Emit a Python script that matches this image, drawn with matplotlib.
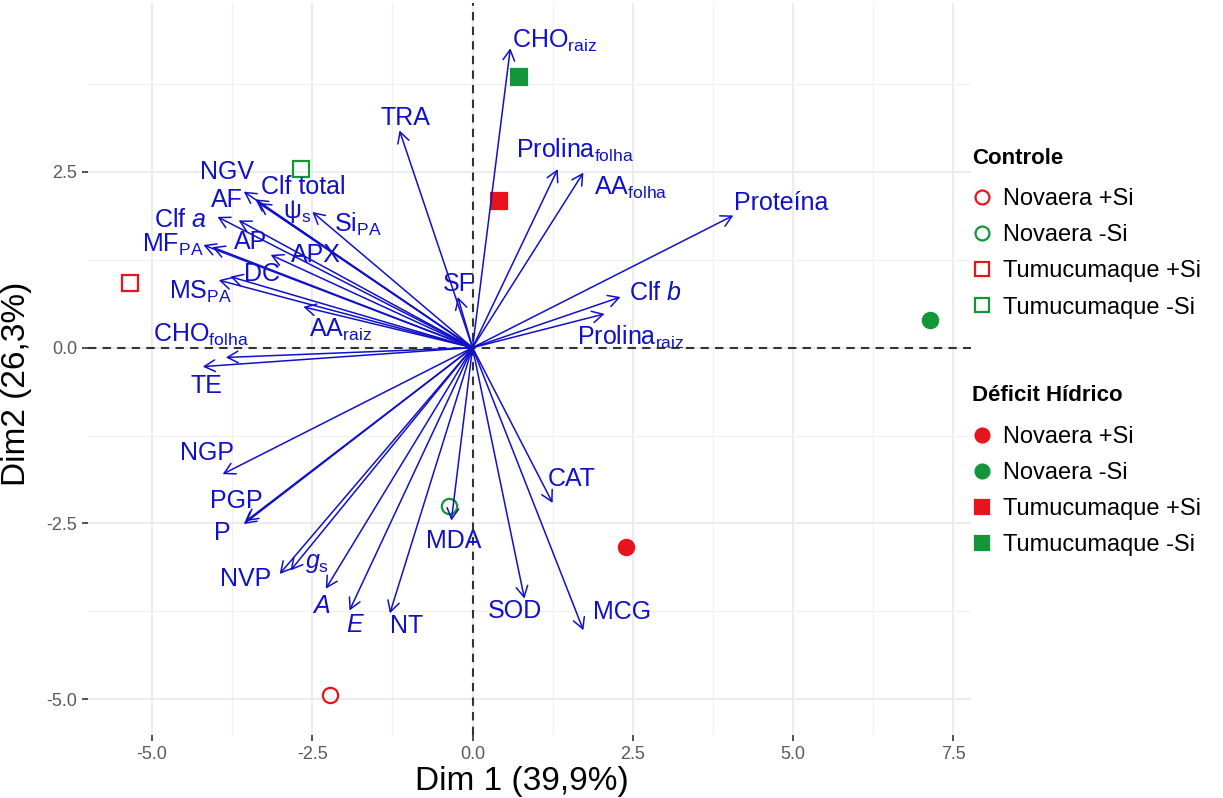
import matplotlib
matplotlib.use("Agg")
import matplotlib.pyplot as plt
from matplotlib.lines import Line2D

# ---- variables (arrow tips, Dim 1 / Dim 2) ----
var_labels = [
    "CHO$_{raiz}$", "TRA", "Prolina$_{folha}$", "AA$_{folha}$", "Proteína",
    "Clf $\\mathit{b}$", "Prolina$_{raiz}$", "SF", "CAT", "MDA", "SOD", "MCG",
    "NT", "$\\mathit{E}$", "$\\mathit{A}$", "$\\mathit{g}_{s}$", "NVP", "P", "PGP",
    "NGP", "TE", "CHO$_{folha}$", "AA$_{raiz}$", "MS$_{PA}$", "DC", "MF$_{PA}$",
    "AP", "APX", "Clf $\\mathit{a}$", "AF", "NGV", "Clf total", "ψ$_{s}$", "Si$_{PA}$",
]
var_dim1 = [0.59, -1.14, 1.33, 1.73, 4.07, 2.31, 2.06, -0.23, 1.25, -0.33, 0.81, 1.73,
            -1.29, -1.92, -2.29, -2.84, -3.01, -3.57, -3.54, -3.90, -4.21, -3.85,
            -2.64, -3.96, -3.78, -4.20, -4.06, -3.15, -3.98, -3.65, -3.57, -3.39,
            -3.34, -2.50]
var_dim2 = [4.26, 3.09, 2.54, 2.49, 1.88, 0.72, 0.48, 0.72, -2.21, -2.46, -3.57, -4.02,
            -3.78, -3.74, -3.43, -3.17, -3.22, -2.51, -2.47, -1.80, -0.27, -0.14,
            0.58, 0.96, 1.01, 1.46, 1.43, 1.32, 1.86, 1.81, 2.22, 2.11,
            2.06, 1.93]

# ---- individuals ----
ind_dim1 = [-2.22, -0.36, -5.34, -2.68, 2.40, 7.14, 0.41, 0.73]
ind_dim2 = [-4.94, -2.25, 0.92, 2.54, -2.83, 0.40, 2.08, 3.85]
ind_group = ["Novaera +Si", "Novaera -Si", "Tumucumaque +Si", "Tumucumaque -Si"] * 2
ind_cond = ["Controle"] * 4 + ["Déficit Hídrico"] * 4

x_ticks = [-5.0, -2.5, 0.0, 2.5, 5.0, 7.5]
y_ticks = [-5.0, -2.5, 0.0, 2.5]

# label offsets from arrow tip, in pixels
label_off = [
    (2, 7, "left"), (6, 12, "center"), (17, 19, "center"), (47, -15, "center"),
    (48, 12, "center"), (35, 4, "center"), (26, -24, "center"), (1, 13, "center"),
    (19, 24, "center"), (2, -20, "center"), (-9, -12, "center"), (39, 18, "center"),
    (17, -13, "center"), (6, -14, "center"), (-5, -17, "center"), (26, 7, "center"),
    (-34, -5, "center"), (-21, -9, "center"), (-9, 20, "center"), (-16, 21, "center"),
    (4, -19, "center"), (-25, 23, "center"), (37, -23, "center"), (-18, -12, "center"),
    (32, 3, "center"), (-31, 0, "center"), (38, 5, "center"), (45, 0, "center"),
    (-37, -3, "center"), (-12, 20, "center"), (-17, 20, "center"), (48, 12, "center"),
    (39, -9, "center"), (46, -12, "center"),
]

main_font = "Liberation Sans"
plt.rcParams["font.family"] = [main_font, "DejaVu Sans"]
plt.rcParams["mathtext.fontset"] = "custom"
plt.rcParams["mathtext.rm"] = main_font
plt.rcParams["mathtext.it"] = main_font + ":italic"
plt.rcParams["mathtext.bf"] = main_font + ":bold"
plt.rcParams["mathtext.default"] = "regular"

blue = "#1010C8"
red = "#E8141C"
green = "#13963A"
col = {"Novaera +Si": red, "Novaera -Si": green, "Tumucumaque +Si": red, "Tumucumaque -Si": green}
mk = {"Novaera +Si": "o", "Novaera -Si": "o", "Tumucumaque +Si": "s", "Tumucumaque -Si": "s"}

fig = plt.figure(figsize=(12.23, 7.98), dpi=100)
ax = fig.add_axes([0.072, 0.079, 0.722, 0.917])

ax.set_xlim(-6.0, 7.78)
ax.set_ylim(-5.51, 4.9)
ax.set_xticks(x_ticks)
ax.set_xticklabels([f"{v:.1f}" for v in x_ticks])
ax.set_yticks(y_ticks)
ax.set_yticklabels([f"{v:.1f}" for v in y_ticks])
ax.set_xticks([-3.75, -1.25, 1.25, 3.75, 6.25], minor=True)
ax.set_yticks([-3.75, -1.25, 1.25, 3.75], minor=True)
ax.grid(which="major", color="#EBEBEB", lw=1.3)
ax.grid(which="minor", color="#F0F0F0", lw=0.9)
ax.set_axisbelow(True)
for s in ax.spines.values():
    s.set_visible(False)
ax.tick_params(which="major", length=4, width=1.2, color="#333333", labelcolor="#5A5A5A",
               labelsize=13, pad=4)
ax.tick_params(which="minor", length=0)

ax.axhline(0, color="#333333", lw=1.5, ls=(0, (4, 3)), zorder=1)
ax.axvline(0, color="#333333", lw=1.5, ls=(0, (4, 3)), zorder=1)

# individuals
for x, y, g, c in zip(ind_dim1, ind_dim2, ind_group, ind_cond):
    filled = c != "Controle"
    ax.plot(x, y, marker=mk[g], ls="none", ms=11,
            mfc=col[g] if filled else "none", mec=col[g], mew=1.6, zorder=3)

# variable arrows + labels
for lab, x, y, (dx, dy, ha) in zip(var_labels, var_dim1, var_dim2, label_off):
    ax.annotate("", xy=(x, y), xytext=(0, 0),
                arrowprops=dict(arrowstyle="->,head_length=0.55,head_width=0.3",
                                color=blue, lw=1.1, shrinkA=0, shrinkB=0,
                                mutation_scale=14), zorder=4)
    ax.annotate(lab, xy=(x, y), xytext=(dx, dy), textcoords="offset pixels",
                ha=ha, va="center", color=blue, fontsize=18, zorder=5)

ax.set_xlabel("Dim 1 (39,9%)", fontsize=24)
ax.set_ylabel("Dim2 (26,3%)", fontsize=24)
ax.xaxis.set_label_coords(0.4915, -0.043)
ax.yaxis.set_label_coords(-0.063, 0.48)

# legends
def handles(filled):
    hs = []
    for g in ["Novaera +Si", "Novaera -Si", "Tumucumaque +Si", "Tumucumaque -Si"]:
        hs.append(Line2D([], [], marker=mk[g], ls="none", ms=10,
                         mfc=col[g] if filled else "none", mec=col[g], mew=1.6, label=g))
    return hs

kw = dict(frameon=False, loc="upper left", fontsize=17, title_fontsize=16,
          handlelength=0.8, handletextpad=0.5, labelspacing=0.6, alignment="left",
          borderaxespad=0, borderpad=0)
leg1 = fig.legend(handles=handles(False), title="Controle",
                  bbox_to_anchor=(0.795, 0.815), **kw)
leg1.get_title().set_fontweight("bold")
leg2 = fig.legend(handles=handles(True), title="Déficit Hídrico",
                  bbox_to_anchor=(0.795, 0.517), **kw)
leg2.get_title().set_fontweight("bold")
for lg in (leg1, leg2):
    lg._legend_box.sep = 14

fig.savefig("out.png", dpi=100)
